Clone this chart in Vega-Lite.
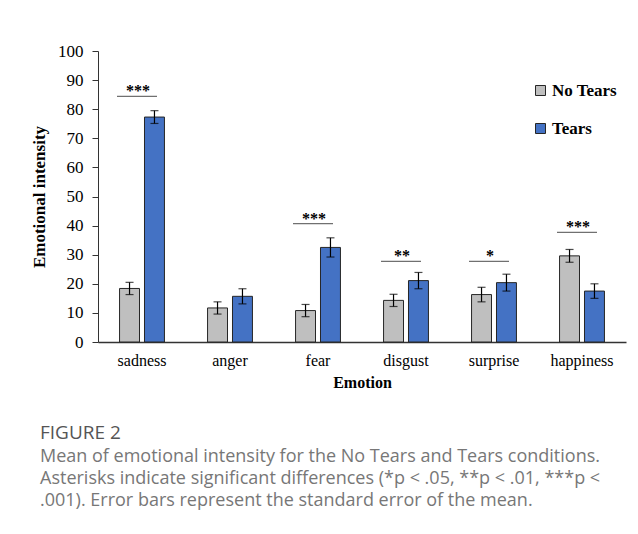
{
  "$schema": "https://vega.github.io/schema/vega-lite/v6.json",
  "width": 528,
  "height": 291,
  "autosize": "none",
  "padding": {"left": 98, "top": 51, "right": 12, "bottom": 192},
  "background": "white",
  "config": {
    "view": {"stroke": null},
    "font": "Liberation Serif",
    "axisY": {
      "labelOverlap": false,
      "grid": false,
      "domainColor": "#333333",
      "tickColor": "#333333",
      "tickSize": 6,
      "labelPadding": 9,
      "labelFont": "Liberation Serif",
      "labelFontSize": 17,
      "labelColor": "#000000",
      "titleFont": "Liberation Serif",
      "titleFontSize": 17,
      "titleFontWeight": "bold",
      "titleColor": "#000000",
      "titlePadding": 9
    },
    "axisX": {
      "labelAngle": 0,
      "ticks": false,
      "domainColor": "#333333",
      "domainWidth": 1.5,
      "labelFont": "Liberation Serif",
      "labelFontSize": 16,
      "labelColor": "#000000",
      "labelPadding": 10,
      "titleFont": "Liberation Serif",
      "titleFontSize": 16,
      "titleFontWeight": "bold",
      "titleColor": "#000000",
      "titlePadding": 6
    }
  },
  "title": {
    "text": "FIGURE 2",
    "subtitle": [
      "Mean of emotional intensity for the No Tears and Tears conditions.",
      "Asterisks indicate significant differences (*p < .05, **p < .01, ***p <",
      ".001). Error bars represent the standard error of the mean."
    ],
    "orient": "bottom",
    "anchor": "start",
    "frame": "group",
    "dx": -58,
    "offset": 34,
    "font": "Open Sans",
    "fontSize": 19,
    "fontWeight": 500,
    "color": "#555555",
    "subtitleFont": "Open Sans",
    "subtitleFontSize": 18,
    "subtitleColor": "#777777",
    "subtitleLineHeight": 22,
    "subtitlePadding": 5
  },
  "datasets": {
    "bars": [
      {"emotion": "sadness", "condition": "No Tears", "mean": 18.4, "lo": 16.3, "hi": 20.5},
      {"emotion": "sadness", "condition": "Tears", "mean": 77.3, "lo": 75.1, "hi": 79.5},
      {"emotion": "anger", "condition": "No Tears", "mean": 11.7, "lo": 9.6, "hi": 13.8},
      {"emotion": "anger", "condition": "Tears", "mean": 15.7, "lo": 13.1, "hi": 18.3},
      {"emotion": "fear", "condition": "No Tears", "mean": 10.8, "lo": 8.7, "hi": 12.9},
      {"emotion": "fear", "condition": "Tears", "mean": 32.5, "lo": 29.2, "hi": 35.8},
      {"emotion": "disgust", "condition": "No Tears", "mean": 14.3, "lo": 12.2, "hi": 16.4},
      {"emotion": "disgust", "condition": "Tears", "mean": 21.1, "lo": 18.3, "hi": 23.9},
      {"emotion": "surprise", "condition": "No Tears", "mean": 16.3, "lo": 13.8, "hi": 18.8},
      {"emotion": "surprise", "condition": "Tears", "mean": 20.4, "lo": 17.5, "hi": 23.3},
      {"emotion": "happiness", "condition": "No Tears", "mean": 29.6, "lo": 27.4, "hi": 31.8},
      {"emotion": "happiness", "condition": "Tears", "mean": 17.5, "lo": 15.0, "hi": 20.0}
    ],
    "sig": [
      {"emotion": "sadness", "y": 84.4, "stars": "***"},
      {"emotion": "fear", "y": 40.7, "stars": "***"},
      {"emotion": "disgust", "y": 27.7, "stars": "**"},
      {"emotion": "surprise", "y": 27.7, "stars": "*"},
      {"emotion": "happiness", "y": 37.7, "stars": "***"}
    ]
  },
  "layer": [
    {
      "data": {"name": "bars"},
      "mark": {"type": "bar", "stroke": "#262626", "strokeWidth": 1},
      "encoding": {
        "x": {
          "field": "emotion",
          "type": "nominal",
          "sort": ["sadness", "anger", "fear", "disgust", "surprise", "happiness"],
          "scale": {"paddingInner": 0.49, "paddingOuter": 0.245},
          "title": "Emotion"
        },
        "xOffset": {
          "field": "condition",
          "type": "nominal",
          "scale": {"paddingInner": 0.2, "paddingOuter": 0}
        },
        "y": {
          "field": "mean",
          "type": "quantitative",
          "scale": {"domain": [0, 100]},
          "title": "Emotional intensity",
          "axis": {"tickCount": 20, "tickMinStep": 10, "labelOverlap": false}
        },
        "color": {
          "field": "condition",
          "type": "nominal",
          "scale": {"domain": ["No Tears", "Tears"], "range": ["#BFBFBF", "#4472C4"]},
          "legend": {
            "title": null,
            "orient": "none",
            "legendX": 434,
            "legendY": 31,
            "symbolType": "square",
            "symbolSize": 100,
            "symbolStrokeColor": "#262626",
            "symbolStrokeWidth": 1,
            "labelFont": "Liberation Serif",
            "labelFontSize": 17,
            "labelFontWeight": "bold",
            "labelColor": "#000000",
            "labelOffset": 3,
            "rowPadding": 20
          }
        }
      }
    },
    {
      "data": {"name": "bars"},
      "mark": {"type": "rule", "color": "#000000", "strokeWidth": 1.2},
      "encoding": {
        "x": {"field": "emotion", "type": "nominal", "sort": ["sadness", "anger", "fear", "disgust", "surprise", "happiness"]},
        "xOffset": {"field": "condition", "type": "nominal"},
        "y": {"field": "lo", "type": "quantitative"},
        "y2": {"field": "hi"}
      }
    },
    {
      "data": {"name": "bars"},
      "mark": {"type": "tick", "color": "#000000", "size": 8, "thickness": 1.2},
      "encoding": {
        "x": {"field": "emotion", "type": "nominal", "sort": ["sadness", "anger", "fear", "disgust", "surprise", "happiness"]},
        "xOffset": {"field": "condition", "type": "nominal"},
        "y": {"field": "lo", "type": "quantitative"}
      }
    },
    {
      "data": {"name": "bars"},
      "mark": {"type": "tick", "color": "#000000", "size": 8, "thickness": 1.2},
      "encoding": {
        "x": {"field": "emotion", "type": "nominal", "sort": ["sadness", "anger", "fear", "disgust", "surprise", "happiness"]},
        "xOffset": {"field": "condition", "type": "nominal"},
        "y": {"field": "hi", "type": "quantitative"}
      }
    },
    {
      "data": {"name": "sig"},
      "mark": {"type": "tick", "color": "#333333", "size": 40, "thickness": 1.3, "xOffset": -5},
      "encoding": {
        "x": {"field": "emotion", "type": "nominal", "sort": ["sadness", "anger", "fear", "disgust", "surprise", "happiness"]},
        "y": {"field": "y", "type": "quantitative"}
      }
    },
    {
      "data": {"name": "sig"},
      "mark": {"type": "text", "color": "#000000", "font": "Liberation Serif", "fontSize": 16, "fontWeight": "bold", "baseline": "alphabetic", "dy": 0, "xOffset": -4},
      "encoding": {
        "x": {"field": "emotion", "type": "nominal", "sort": ["sadness", "anger", "fear", "disgust", "surprise", "happiness"]},
        "y": {"field": "y", "type": "quantitative"},
        "text": {"field": "stars"}
      }
    }
  ]
}
